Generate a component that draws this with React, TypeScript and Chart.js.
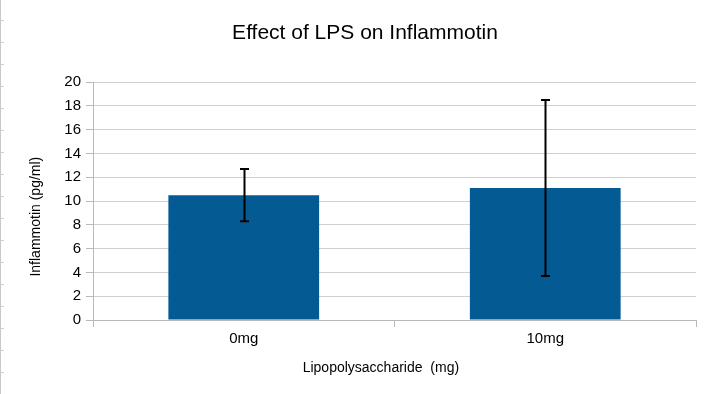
import React, { useEffect, useRef } from "react";
import { Chart, registerables } from "chart.js";

Chart.register(...registerables);

const categories = ["0mg", "10mg"];
const values = [10.5, 11.1];
const errors = [2.2, 7.4];
const yTicks = { min: 0, max: 20, step: 2 };
const chartTitle = "Effect of LPS on Inflammotin";
const xTitle = "Lipopolysaccharide  (mg)";
const yTitle = "Inflammotin (pg/ml)";

const FONT = "'Liberation Sans', Arial, Helvetica, sans-serif";

const errorBarPlugin = {
  id: "errorBars",
  afterDatasetsDraw(chart: any) {
    const { ctx, scales } = chart;
    const xs = scales.x;
    const ys = scales.y;
    ctx.save();
    ctx.strokeStyle = "#000";
    ctx.lineWidth = 2;
    values.forEach((v, i) => {
      const x = Math.round(xs.getPixelForValue(i)) + 0.5;
      const yTop = ys.getPixelForValue(v + errors[i]);
      const yBot = ys.getPixelForValue(v - errors[i]);
      ctx.beginPath();
      ctx.moveTo(x, yTop);
      ctx.lineTo(x, yBot);
      ctx.moveTo(x - 4.5, yTop);
      ctx.lineTo(x + 4.5, yTop);
      ctx.moveTo(x - 4.5, yBot);
      ctx.lineTo(x + 4.5, yBot);
      ctx.stroke();
    });
    ctx.restore();
  },
};

export default function App() {
  const ref = useRef<HTMLCanvasElement>(null);

  useEffect(() => {
    if (!ref.current) return;
    const chart = new Chart(ref.current, {
      type: "bar",
      data: {
        labels: categories,
        datasets: [
          {
            label: "Inflammotin",
            data: values,
            backgroundColor: "#045a92",
            borderWidth: 0,
            categoryPercentage: 1,
            barPercentage: 0.5,
            yAxisID: "y",
          },
        ],
      },
      options: {
        animation: false,
        responsive: false,
        maintainAspectRatio: false,
        layout: { padding: { left: 24, right: 0, top: 0, bottom: 0 } },
        plugins: {
          legend: { display: false },
          tooltip: { enabled: false },
          title: {
            display: true,
            text: chartTitle,
            color: "#000",
            font: { family: FONT, size: 21, weight: "normal" },
            padding: { top: 21, bottom: 36 },
          },
        },
        scales: {
          x: {
            offset: true,
            grid: {
              offset: true,
              drawOnChartArea: true,
              color: (c: any) => (c.index === 2 ? "#d4d4d4" : "rgba(0,0,0,0)"),
              tickColor: "#b8b8b8",
              tickLength: 7,
            },
            border: { display: true, color: "#b8b8b8" },
            ticks: {
              color: "#000",
              font: { family: FONT, size: 15 },
              padding: 3,
            },
            title: {
              display: true,
              text: xTitle + "       ",
              color: "#000",
              font: { family: FONT, size: 14 },
              padding: { top: 10, bottom: 17 },
            },
            afterFit: (s: any) => {
              s.height = 74;
            },
          },
          y: {
            position: "left",
            min: yTicks.min,
            max: yTicks.max,
            grid: {
              color: "#d0d0d0",
              tickColor: "#b8b8b8",
              tickLength: 7,
            },
            border: { display: true, color: "#b8b8b8" },
            ticks: {
              stepSize: yTicks.step,
              color: "#000",
              font: { family: FONT, size: 15 },
              padding: 5,
            },
            title: {
              display: true,
              text: yTitle + "        ",
              color: "#000",
              font: { family: FONT, size: 14 },
              padding: { top: 4, bottom: 0 },
            },
            afterFit: (s: any) => {
              s.width = 69;
            },
          },
          y2: {
            position: "right",
            display: true,
            min: 0,
            max: 20,
            grid: { display: false, drawTicks: false },
            border: { display: false },
            ticks: { display: false },
            afterFit: (s: any) => {
              s.width = 10;
            },
          },
        },
      } as any,
      plugins: [errorBarPlugin],
    });
    return () => chart.destroy();
  }, []);

  return (
    <div style={{ position: "fixed", left: 0, top: 0, width: 706, height: 394, background: "#fff" }}>
      <canvas ref={ref} width={706} height={394} style={{ position: "absolute", left: 0, top: 0, width: 706, height: 394 }} />
      <div style={{ position: "absolute", left: 0, top: 0, width: 1, height: 394, background: "#c8c8c8" }} />
      <div
        style={{
          position: "absolute",
          left: 1,
          top: 0,
          width: 3,
          height: 394,
          backgroundImage:
            "repeating-linear-gradient(to bottom, transparent 0px, transparent 20px, #d0d0d0 20px, #d0d0d0 21px, transparent 21px, transparent 22px)",
        }}
      />
    </div>
  );
}
